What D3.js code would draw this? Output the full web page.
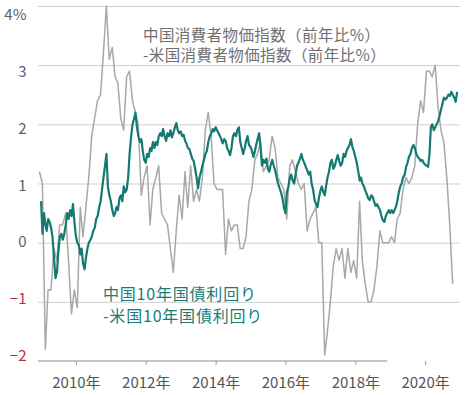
<!DOCTYPE html>
<html>
<head>
<meta charset="utf-8">
<title>中国−米国 物価と金利の差</title>
<script src="https://d3js.org/d3.v7.min.js"></script>
<style>
  body { margin: 0; background: #fff; }
  #chart svg { display: block; }
  text { font-family: "Noto Sans CJK JP", "Noto Sans", sans-serif; }
</style>
</head>
<body>
<div id="chart"></div>
<script>
// CPI gap, China minus US (% y/y), monthly from Dec 2008
const cpiStart = [2008, 11];
const cpiDiff = [
  1.2,
  1.0, -1.8, -0.8, -0.8, -0.1, -0.3, 0.3, 0.3, 0.5, -0.3, -1.2, -0.8,
  -1.1, 0.6, 0.1, 0.6, 1.1, 1.8, 2.1, 2.4, 2.5, 3.2, 4.0, 3.1,
  3.3, 2.8, 2.7, 2.1, 1.9, 2.8, 2.9, 2.4, 2.2, 2.0, 0.8, 1.1,
  1.3, 0.3, 0.9, 1.1, 1.3, 0.5, 0.4, 0.3, -0.1, -0.5, 0.2, 0.8,
  0.4, 1.2, 0.6, 1.3, 0.7, 0.9, 0.7, 1.1, 1.9, 2.2, 1.8, 1.0,
  0.9, 0.9, 0.9, -0.2, 0.4, 0.2, 0.3, 0.3, -0.1, -0.1, 0.1, 0.7,
  0.9, 1.4, 1.5, 1.7, 1.2, 1.3, 1.4, 1.8, 1.6, 1.1, 1.0, 0.9,
  0.4, 1.3, 1.4, 1.2, 1.0, 0.9, 1.0, 0.2, 0.4, 0.5, 0.6, 0.0,
  0.0, -1.9, -1.5, -1.0, -0.4, -0.1, -0.3, -0.1, -0.6, -0.1, -0.5, -0.3,
  -0.6, 0.7, -0.3, -0.7, -1.0, -1.0, -0.8, -0.4, 0.2, 0.0, 0.0, 0.0,
  0.1, 0.0, 0.4, 0.5, 0.9, 1.1, 1.0, 1.1, 1.3, 2.0, 2.4, 2.2,
  2.9, 2.9, 2.8, 3.0, 2.3, 1.9, 1.7, 1.1, 0.3, -0.7
];

// 10y yield gap, China minus US (%), twice a month from Jan 2009
const yieldStart = [2009, 0];
const yieldDiff = [
  0.7, 0.15, 0.5, 0.3, 0.2, 0.4, 0.35, 0.25, 0.1, -0.25, -0.6, -0.5, -0.15, 0.1, 0.15, 0.05, 0.15, 0.3, 0.5, 0.4, 0.55, 0.45, 0.65, 0.35,
  0.1, 0.0, -0.05, -0.2, -0.1, -0.35, -0.45, -0.25, -0.1, 0.0, 0.05, 0.1, 0.2, 0.25, 0.4, 0.45, 0.6, 0.7, 0.9, 1.1, 1.3, 1.5, 0.95, 0.8,
  0.7, 0.55, 0.45, 0.5, 0.6, 0.55, 0.75, 0.8, 0.7, 0.95, 0.85, 0.9, 1.1, 1.5, 1.8, 2.0, 2.1, 2.2, 1.95, 1.8, 1.7, 1.75, 1.55, 1.4,
  1.35, 1.5, 1.45, 1.6, 1.55, 1.7, 1.6, 1.7, 1.65, 1.8, 1.85, 1.8, 1.92, 1.8, 1.72, 1.85, 1.8, 1.9, 1.78, 1.85, 1.95, 2.02, 1.9, 1.85,
  1.88, 1.8, 1.82, 1.72, 1.68, 1.6, 1.58, 1.5, 1.42, 1.38, 1.25, 1.1, 0.92, 1.1, 1.2, 1.3, 1.4, 1.5, 1.55, 1.7, 1.8, 1.85, 1.92, 1.88,
  1.95, 1.9, 1.85, 1.8, 1.75, 1.68, 1.75, 1.72, 1.6, 1.55, 1.48, 1.6, 1.8, 1.85, 1.8, 1.9, 1.95, 1.7, 1.6, 1.5, 1.6, 1.72, 1.8, 1.65,
  1.62, 1.55, 1.45, 1.55, 1.65, 1.75, 1.85, 1.6, 1.3, 1.4, 1.35, 1.42, 1.25, 1.2, 1.32, 1.4, 1.3, 1.22, 1.1, 1.0, 0.92, 0.85, 0.75, 0.6,
  0.5, 0.85, 0.95, 1.1, 1.15, 1.05, 1.0, 1.15, 1.3, 1.35, 1.42, 1.5, 1.4, 1.35, 1.28, 1.22, 1.15, 1.2, 1.0, 0.9, 0.72, 0.65, 0.6, 0.75,
  0.88, 0.95, 0.85, 0.8, 0.95, 1.1, 1.2, 1.35, 1.4, 1.25, 1.3, 1.4, 1.48, 1.38, 1.3, 1.35, 1.5, 1.45, 1.55, 1.6, 1.65, 1.75, 1.62, 1.55,
  1.45, 1.35, 1.2, 1.05, 1.1, 1.0, 0.95, 0.88, 0.82, 0.75, 0.72, 0.8, 0.78, 0.7, 0.62, 0.65, 0.6, 0.55, 0.45, 0.38, 0.35, 0.45, 0.5, 0.55,
  0.5, 0.55, 0.5, 0.55, 0.6, 0.7, 0.85, 0.95, 1.0, 1.1, 1.15, 1.28, 1.35, 1.45, 1.5, 1.6, 1.65, 1.6, 1.5, 1.45, 1.42, 1.38, 1.4, 1.35,
  1.32, 1.3, 1.28, 1.5, 1.95, 2.0, 1.9, 1.95, 2.0, 2.05, 2.15, 2.25, 2.35, 2.45, 2.42, 2.45, 2.5, 2.48, 2.55, 2.5, 2.45, 2.38, 2.55
];

const yTicks = [4, 3, 2, 1, 0, -1, -2];
const yLabels = ["4%", "3", "2", "1", "0", "−1", "−2"];
const xTickYears = [2010, 2012, 2014, 2016, 2018, 2020];
const cpiLegend = ["中国消費者物価指数（前年比%）", "-米国消費者物価指数（前年比%）"];
const yieldLegend = ["中国10年国債利回り", "-米国10年国債利回り"];

const width = 469, height = 395;

const x = d3.scaleTime()
  .domain([new Date(2008, 10, 30), new Date(2020, 11, 31)])
  .range([38, 460]);
const y = d3.scaleLinear().domain([-2, 4]).range([361, 6]);
// the value labels sit a little off the gridlines in the original
const yLab = d3.scaleLinear().domain([-2, 4]).range([356, 14.5]);
const axisEnd = new Date(2018, 11, 1);

const cpiData = cpiDiff.map((v, i) => ({ date: new Date(cpiStart[0], cpiStart[1] + i, 15), value: v }));
const yieldData = yieldDiff.map((v, i) => ({
  date: new Date(yieldStart[0], yieldStart[1] + Math.floor(i / 2), i % 2 ? 16 : 1),
  value: v
}));

const svg = d3.select("#chart").append("svg")
  .attr("width", width)
  .attr("height", height);

// gridlines
svg.append("g")
  .attr("transform", `translate(${x.range()[0]},0)`)
  .call(d3.axisLeft(y).tickValues(yTicks.filter(t => t > -2))
    .tickSize(-(x.range()[1] - x.range()[0])).tickFormat(""))
  .call(g => g.select(".domain").remove())
  .selectAll("line").attr("stroke", "#cfcfcf");

// value labels
svg.append("g")
  .attr("transform", "translate(26.5,0)")
  .call(d3.axisLeft(yLab).tickValues(yTicks).tickSize(0).tickPadding(0)
    .tickFormat((d, i) => yLabels[i]))
  .call(g => g.select(".domain").remove())
  .selectAll("text")
  .attr("font-size", 15)
  .attr("fill", d => d < 0 ? "#b3303c" : "#5a6078");

// x axis
const xAxis = svg.append("g")
  .attr("transform", `translate(0,${y(-2)})`)
  .call(d3.axisBottom(x).tickValues(xTickYears.map(yr => new Date(yr, 0, 1)))
    .tickSize(4).tickPadding(12).tickFormat(d => d.getFullYear() + "年"));
xAxis.select(".domain").remove();
xAxis.selectAll("line").attr("stroke", "#a0a0a0");
xAxis.selectAll("text").attr("font-size", 15).attr("fill", "#555");

svg.append("line")
  .attr("x1", x.range()[0]).attr("x2", x(axisEnd))
  .attr("y1", y(-2)).attr("y2", y(-2))
  .attr("stroke", "#8a8a8a");

const line = d3.line().x(d => x(d.date)).y(d => y(d.value));

svg.append("path")
  .datum(cpiData)
  .attr("fill", "none")
  .attr("stroke", "#a8a8a8")
  .attr("stroke-width", 1.5)
  .attr("stroke-linejoin", "round")
  .attr("d", line);

svg.append("path")
  .datum(yieldData)
  .attr("fill", "none")
  .attr("stroke", "#137a71")
  .attr("stroke-width", 2.2)
  .attr("stroke-linejoin", "round")
  .attr("d", line);

// legends
svg.append("g").selectAll("text")
  .data(cpiLegend)
  .join("text")
  .attr("x", 143)
  .attr("y", (d, i) => 41 + i * 20)
  .attr("font-size", 15.5)
  .attr("letter-spacing", 0.4)
  .attr("fill", "#707070")
  .text(d => d);

svg.append("g").selectAll("text")
  .data(yieldLegend)
  .join("text")
  .attr("x", 103)
  .attr("y", (d, i) => 300 + i * 22)
  .attr("font-size", 16)
  .attr("letter-spacing", 0.8)
  .attr("fill", "#1b7b73")
  .text(d => d);
</script>
</body>
</html>
